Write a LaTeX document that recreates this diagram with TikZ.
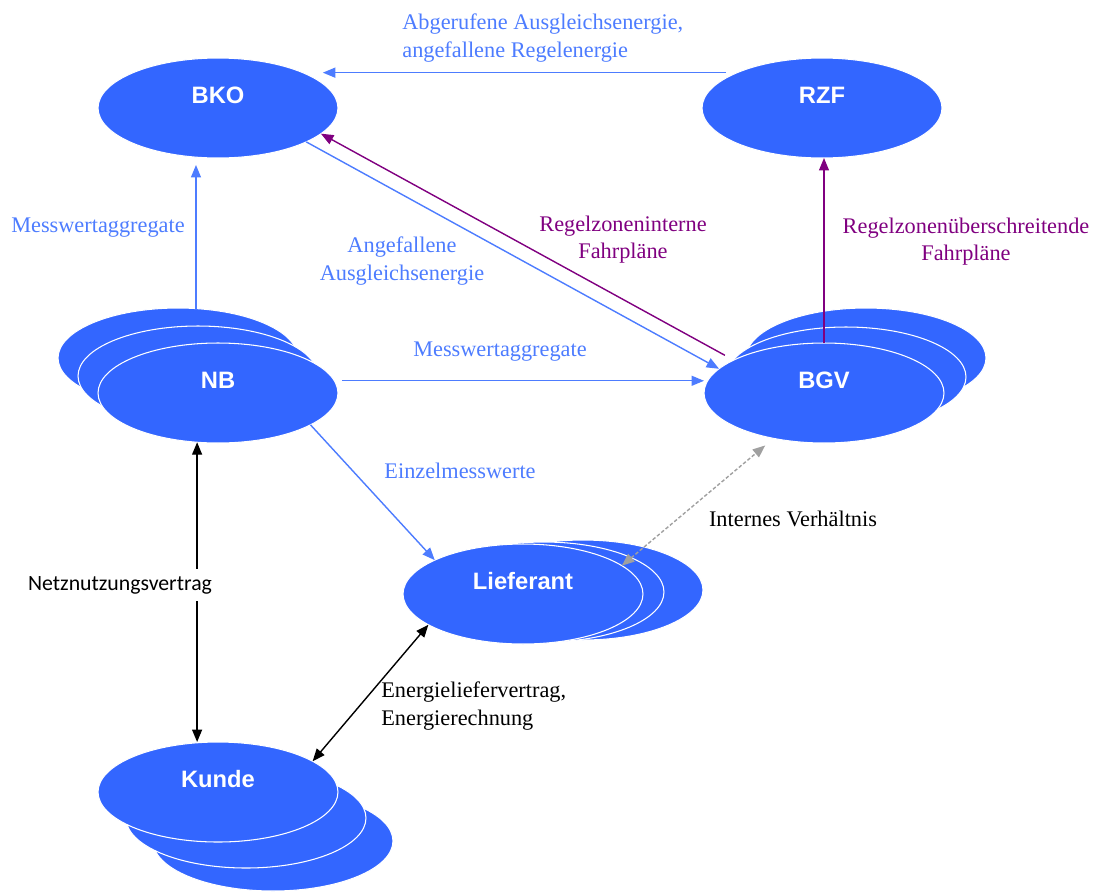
\documentclass[tikz,border=0pt]{standalone}
\usepackage{fontspec}
\setmainfont{Liberation Serif}
\newfontfamily\entityfont{Liberation Sans}
\newfontfamily\contractfont{Carlito}
\usepackage{xcolor}
\definecolor{nodeBlue}{HTML}{3366FF}
\definecolor{flowBlue}{HTML}{4D7CFF}
\definecolor{flowPurple}{HTML}{800080}
\definecolor{flowGray}{HTML}{A0A0A0}
\usetikzlibrary{shapes.geometric,arrows.meta}

\begin{document}
\begin{tikzpicture}[x=0.02cm,y=-0.02cm,
  entity/.style={ellipse,fill=nodeBlue,draw=white,line width=0.6pt,
    minimum width=4.8cm,minimum height=2cm,inner sep=0pt,outer sep=0pt,
    text=white,font={\entityfont\bfseries\fontsize{13.5}{16}\selectfont},
    text height=0.34cm,text depth=0.52cm},
  flowtip/.style={-{Triangle[length=2.5mm,width=2mm]}},
  flowblue/.style={flowtip,draw=flowBlue,line width=0.8pt},
  flowpurple/.style={flowtip,draw=flowPurple,fill=flowPurple,line width=0.8pt},
  flowblack/.style={{Triangle[length=2.5mm,width=2mm]}-{Triangle[length=2.5mm,width=2mm]},draw=black,line width=0.8pt},
  flowgray/.style={{Triangle[length=2.5mm,width=2mm]}-{Triangle[length=2.5mm,width=2mm]},draw=flowGray,line width=0.8pt,dash pattern=on 2pt off 1.2pt},
  lbl/.style={inner sep=0pt,font={\fontsize{12.7}{15.5}\selectfont}},
  bluelbl/.style={lbl,text=flowBlue},
  purplelbl/.style={lbl,text=flowPurple}]
  \useasboundingbox (0,0) rectangle (1094,893);

  % single entities
  \node[entity] (bko) at (218,108) {BKO};
  \node[entity] (rzf) at (822,108) {RZF};

  % stacked entities, back to front
  \node[entity] (nb3) at (178,358) {};
  \node[entity] (nb2) at (198,376) {};
  \node[entity] (nb) at (218,393) {NB};
  \node[entity] (bgv3) at (866,358) {};
  \node[entity] (bgv2) at (846,377) {};
  \node[entity] (bgv) at (824,393) {BGV};
  \node[entity] (lief3) at (583,590) {};
  \node[entity] (lief2) at (544,592) {};
  \node[entity] (lief) at (523,594) {Lieferant};
  \node[entity] (kunde3) at (273,841) {};
  \node[entity] (kunde2) at (246,818) {};
  \node[entity] (kunde) at (218,792) {Kunde};

  % data flows
  \draw[flowblue,shorten <=0.22cm,shorten >=0.4cm] (rzf.north west) -- (bko.north east |- rzf.north west);
  \draw[flowblue,shorten >=0.14cm] (nb3.70) -- (nb3.70 |- bko.south);
  \draw[flowblue] (bko.-21) -- (bgv.167);
  \draw[flowpurple,shorten <=0.2cm] (bgv.160) -- (bko.-14);
  \draw[flowpurple] (bgv.north) -- (bgv.north |- rzf.south);
  \draw[flowblue,shorten <=0.16cm] (nb.6) -- (nb.6 -| bgv.west);
  \draw[flowblue] (nb.-19) -- (lief.159);
  \draw[flowgray,shorten >=0.22cm] (lief.16) -- (bgv.222);
  \draw[flowblack] (nb.-113) -- (nb.-113 |- kunde.north);
  \draw[flowblack] (lief.198) -- (kunde.18);

  % labels
  \node[bluelbl,align=left,anchor=west] (lbl-abgerufen) at (402,38) {Abgerufene Ausgleichsenergie,\\angefallene Regelenergie};
  \node[bluelbl] (lbl-aggr-bko) at (98,228) {Messwertaggregate};
  \node[bluelbl,align=center] (lbl-angefallen) at (402,261) {Angefallene\\Ausgleichsenergie};
  \node[purplelbl,align=center] (lbl-intern) at (623,240) {Regelzoneninterne\\Fahrpläne};
  \node[purplelbl,align=center] (lbl-extern) at (966,242) {Regelzonenüberschreitende\\Fahrpläne};
  \node[bluelbl] (lbl-aggr-bgv) at (500,352) {Messwertaggregate};
  \node[bluelbl] (lbl-einzel) at (460,471) {Einzelmesswerte};
  \node[lbl] (lbl-intern-verh) at (793,519) {Internes Verhältnis};
  \node[fill=white,inner xsep=1pt,inner ysep=4pt,font={\contractfont\fontsize{12.4}{15}\selectfont}] (lbl-netz) at (120,585) {Netznutzungsvertrag};
  \node[lbl,align=left,anchor=west] (lbl-energie) at (381,706) {Energieliefervertrag,\\Energierechnung};
\end{tikzpicture}
\end{document}
